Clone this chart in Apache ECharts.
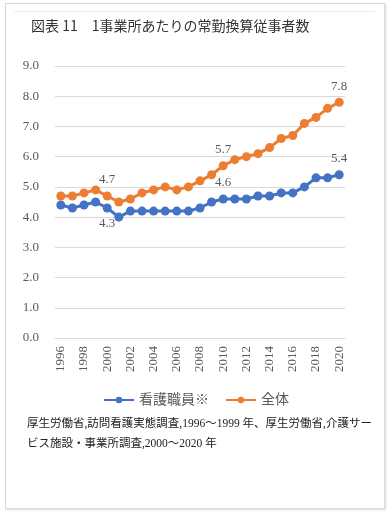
<!DOCTYPE html>
<html><head><meta charset="utf-8">
<script src="https://cdn.jsdelivr.net/npm/echarts@6/dist/echarts.min.js"></script>
<style>
html,body{margin:0;padding:0;background:#fff;}
#frame{position:absolute;left:5px;top:3px;width:378px;height:504px;border:1px solid #d9d9d9;box-shadow:1px 1px 2px rgba(0,0,0,0.15);}
#topline{position:absolute;left:14px;top:11px;width:361px;height:0;border-top:1px solid #ececec;}
#chart{position:absolute;left:0;top:0;width:392px;height:518px;}
</style></head>
<body>
<div id="frame"></div><div id="topline"></div>
<div id="chart"></div>
<script>
const titleText = '図表 11\u30001事業所あたりの常勤換算従事者数';
const years = ['1996','1997','1998','1999','2000','2001','2002','2003','2004','2005','2006','2007','2008','2009','2010','2011','2012','2013','2014','2015','2016','2017','2018','2019','2020'];
const nurseName = '看護職員※';
const nurse = [4.4,4.3,4.4,4.5,4.3,4.0,4.2,4.2,4.2,4.2,4.2,4.2,4.3,4.5,4.6,4.6,4.6,4.7,4.7,4.8,4.8,5.0,5.3,5.3,5.4];
const totalName = '全体';
const total = [4.7,4.7,4.8,4.9,4.7,4.5,4.6,4.8,4.9,5.0,4.9,5.0,5.2,5.4,5.7,5.9,6.0,6.1,6.3,6.6,6.7,7.1,7.3,7.6,7.8];
const nurseLabelIdx = {4:'bottom',14:'top',24:'top'};
const totalLabelIdx = {4:'top',14:'top',24:'top'};
const sourceText = '厚生労働省,訪問看護実態調査,1996～1999 年、厚生労働省,介護サービス施設・事業所調査,2000～2020 年';

const serif = '"Liberation Serif","Noto Sans CJK JP",serif';
function mkData(vals, idx){
  return vals.map((v,i)=> idx[i] ? {value:v,label:{show:true,position:idx[i]}} : v);
}
const chart = echarts.init(document.getElementById('chart'));
chart.setOption({
  animation:false,
  title:{text:titleText,left:26,top:14,textStyle:{fontFamily:'"Noto Sans CJK JP",sans-serif',fontSize:14,fontWeight:'normal',color:'#333'}},
  grid:{left:55,right:47,top:66,height:272},
  legend:{top:388,left:'center',itemWidth:30,itemHeight:8,itemGap:16,
    textStyle:{fontFamily:serif,fontSize:14,color:'#595959'},
    data:[nurseName,totalName]},
  xAxis:{type:'category',data:years,boundaryGap:true,
    axisLine:{lineStyle:{color:'#d9d9d9'}},axisTick:{show:false},
    axisLabel:{interval:1,rotate:90,color:'#595959',fontFamily:serif,fontSize:13,margin:8}},
  yAxis:{type:'value',min:0,max:9,interval:1,
    axisLabel:{formatter:v=>v.toFixed(1),color:'#595959',fontFamily:serif,fontSize:13,margin:16},
    splitLine:{lineStyle:{color:'#d9d9d9'}},axisLine:{show:false},axisTick:{show:false}},
  series:[
    {name:nurseName,type:'line',data:mkData(nurse,nurseLabelIdx),color:'#4472C4',
     symbol:'circle',symbolSize:9,showSymbol:true,showAllSymbol:true,lineStyle:{width:3},
     label:{show:false,color:'#595959',fontFamily:serif,fontSize:13,formatter:p=>p.value.toFixed(1)}},
    {name:totalName,type:'line',data:mkData(total,totalLabelIdx),color:'#ED7D31',
     symbol:'circle',symbolSize:9,showSymbol:true,showAllSymbol:true,lineStyle:{width:3},
     label:{show:false,color:'#595959',fontFamily:serif,fontSize:13,formatter:p=>p.value.toFixed(1)}}
  ],
  graphic:[{type:'text',left:27,top:414,style:{text:sourceText,width:348,overflow:'break',lineHeight:20,
    font:'11.5px "Liberation Serif","Noto Sans CJK JP",serif',fill:'#222'}}]
});
</script>
</body></html>
